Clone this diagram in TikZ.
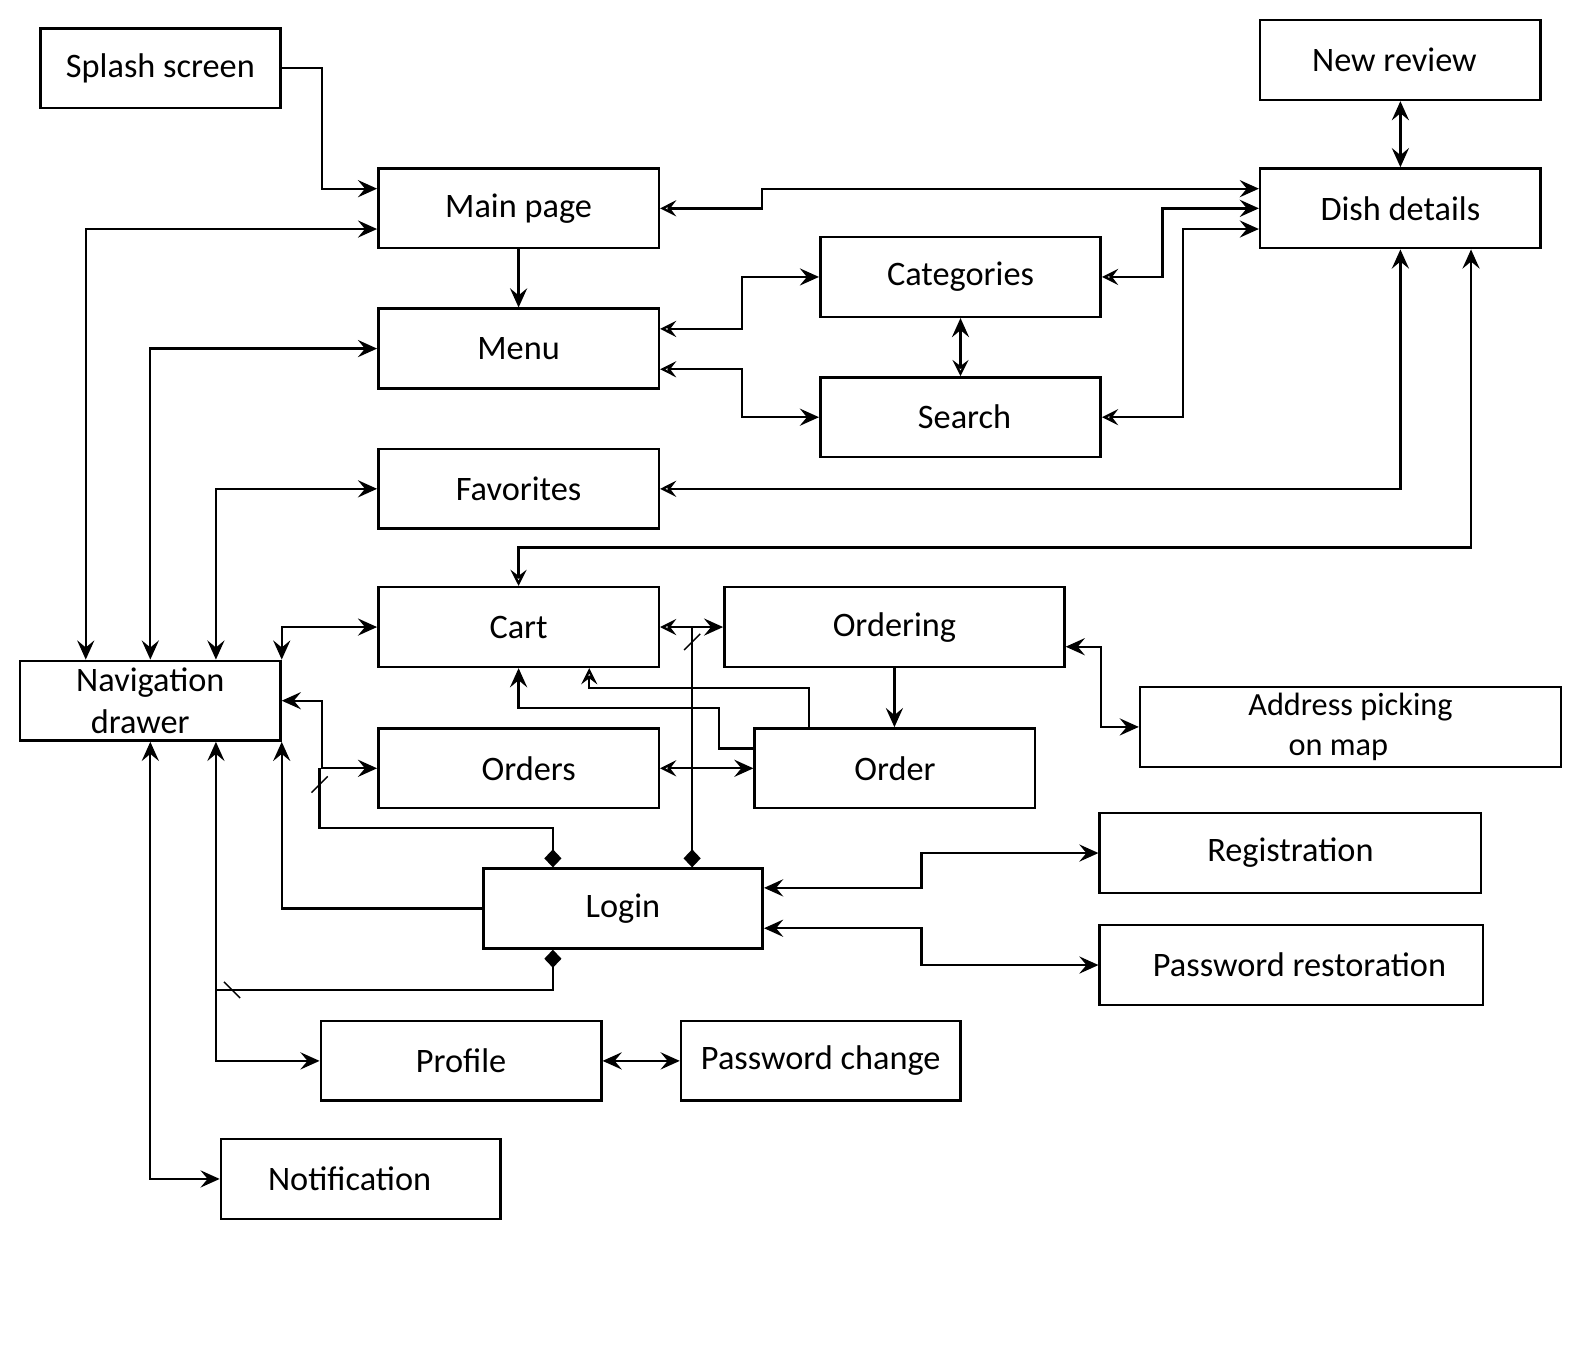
\documentclass[tikz,border=0pt]{standalone}
\usepackage{fontspec}
\setmainfont{Carlito}
\usetikzlibrary{arrows.meta,positioning,calc,decorations.markings}

\begin{document}
\begin{tikzpicture}[
    x=0.5pt, y=-0.5pt,
    line width=1.15pt,
    >={Stealth[length=9.5pt,width=8.5pt,inset=3.5pt]},
    box/.style={draw, line width=1.25pt, minimum height=39.5pt, inner sep=0pt, align=center, font=\fontsize{17}{20.5}\selectfont},
    oarr/.style={{Stealth[open,length=8pt,width=8pt,inset=3pt]}->},
    oend/.style={-{Stealth[open,length=8pt,width=8pt,inset=3pt]}},
    comp/.style={{Diamond[length=9pt,width=8.5pt]}-, postaction={decorate},
        decoration={markings, mark=at position -8pt with {\draw[-, line width=0.7pt] (-4pt,4pt) -- (4pt,-4pt);}}}
]
    \useasboundingbox (0,0) rectangle (1568,1348);

    % Screens
    \node[box, minimum width=119pt] (splash) at (159,67.5) {Splash screen};
    \node[box, minimum width=139pt] (newrev) at (1388,59.5) {New review\hspace*{6pt}};
    \node[box, minimum width=139pt] (main) at (514,206.5) {Main page};
    \node[box, minimum width=139pt] (dish) at (1388,206.5) {Dish details};
    \node[box, minimum width=139pt] (cat) at (952,274.5) {Categories};
    \node[box, minimum width=139pt] (menu) at (514,345.5) {Menu};
    \node[box, minimum width=139pt] (search) at (952,413.5) {\hspace*{4pt}Search};
    \node[box, minimum width=139pt] (fav) at (514,484.5) {Favorites};
    \node[box, minimum width=139pt] (cart) at (514,621.5) {Cart};
    \node[box, minimum width=168.5pt] (ordering) at (886.5,621.5) {Ordering};
    \node[box, minimum width=129pt] (nav) at (149,694.5) {Navigation\\drawer\hspace*{10pt}};
    \node[box, minimum width=208.5pt, font=\fontsize{16}{19.5}\selectfont] (addr) at (1338.5,720.5) {Address picking\\on map\hspace*{12pt}};
    \node[box, minimum width=139pt] (orders) at (514,761.5) {\hspace*{10pt}Orders};
    \node[box, minimum width=139pt] (order) at (887,761.5) {Order};
    \node[box, minimum width=189pt] (reg) at (1279,845.5) {Registration};
    \node[box, minimum width=138.5pt] (login) at (617.5,900.5) {Login};
    \node[box, minimum width=190pt] (pwrest) at (1280,956.5) {\hspace*{8pt}Password restoration};
    \node[box, minimum width=139pt] (profile) at (457,1051.5) {Profile};
    \node[box, minimum width=138.5pt] (pwchg) at (813.5,1051.5) {Password change};
    \node[box, minimum width=138.5pt] (notif) at (357.5,1168.5) {Notification\hspace*{11pt}};

    % Top part
    \draw[->] (splash.east) -- ++(40,0) |- ($(main.west)+(0,-19.5)$);
    \draw[oarr] (main.east) -- ++(101,0) |- ($(dish.west)+(0,-19.5)$);
    \draw[<->] ($(main.west)+(0,20.5)$) -| ($(nav.north)+(-64,0)$);
    \draw[->] (main.south) -- (menu.north);
    \draw[<->] (menu.west) -| (nav.north);
    \draw[<->] (fav.west) -| ($(nav.north)+(65,0)$);
    \draw[<->] (cart.west) -| (nav.north east);
    \draw[oarr] ($(menu.east)+(0,-19.5)$) -- ++(81,0) |- (cat.west);
    \draw[oarr] ($(menu.east)+(0,20.5)$) -- ++(81,0) |- (search.west);
    \draw[{Stealth[length=9.5pt,width=8.5pt,inset=3.5pt]}-{Stealth[open,length=8pt,width=8pt,inset=3pt]}] (cat.south) -- (search.north);
    \draw[oarr] (cat.east) -- ++(60,0) |- (dish.west);
    \draw[oarr] (search.east) -- ++(80,0) |- ($(dish.west)+(0,20.5)$);
    \draw[<->] (newrev.south) -- (dish.north);
    \draw[oarr] (fav.east) -| (dish.south);
    \draw[oarr] (cart.north) -- ++(0,-38) -| ($(dish.south)+(70,0)$);

    % Cart and orders
    \draw[oarr] (cart.east) -- (ordering.west);
    \draw[->] (ordering.south) -- (ordering.south |- order.north);
    \draw[<->] ($(ordering.east)+(0,19.5)$) -- ++(35,0) |- (addr.west);
    \draw[->] ($(order.west)+(0,-19.5)$) -- ++(-34,0) -- ++(0,-40) -| (cart.south);
    \draw[oend] ($(order.north)+(-85,0)$) -- ++(0,-39) -| ($(cart.south)+(70,0)$);
    \draw[oarr] (orders.east) -- (order.west);
    \draw[<->] (nav.east) -- ++(40,0) |- (orders.west);

    % Login
    \draw[comp] ($(login.north)+(-69.5,0)$) -- ++(0,-39) -| ($(orders.west)+(-57,0)$);
    \draw[comp] ($(login.north)+(68.5,0)$) -- ++(0,-239.5);
    \draw[comp] ($(login.south)+(-69.5,0)$) |- ($(nav.south)+(65,246)$);
    \draw[->] (login.west) -| (nav.south east);
    \draw[<->] ($(login.east)+(0,-20.5)$) -- ++(156,0) |- (reg.west);
    \draw[<->] ($(login.east)+(0,19.5)$) -- ++(156,0) |- (pwrest.west);

    % Bottom part
    \draw[<->] ($(nav.south)+(65,0)$) |- (profile.west);
    \draw[<->] (nav.south) |- (notif.west);
    \draw[<->] (profile.east) -- (pwchg.west);
\end{tikzpicture}
\end{document}
